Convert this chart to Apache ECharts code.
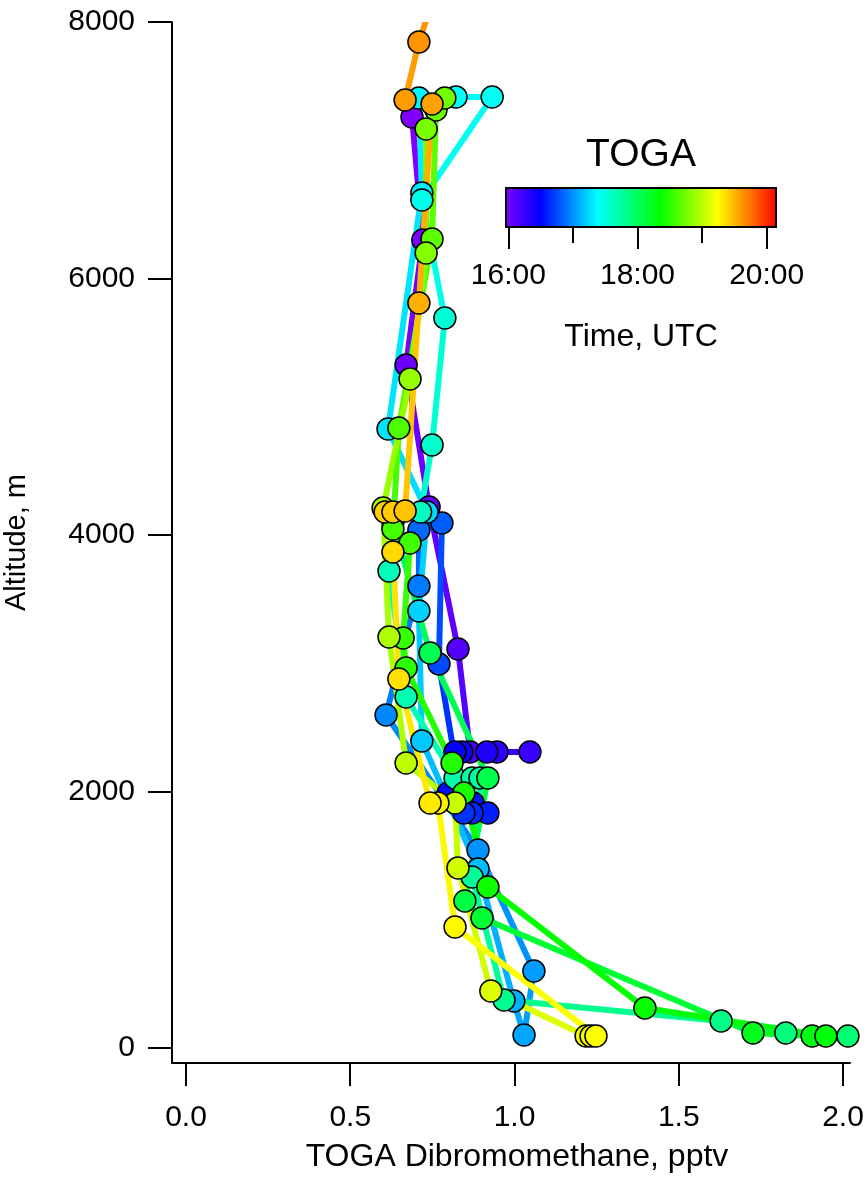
<!DOCTYPE html>
<html>
<head>
<meta charset="utf-8">
<script src="https://cdn.jsdelivr.net/npm/echarts@6/dist/echarts.min.js"></script>
<style>
  html, body { margin: 0; padding: 0; background: #ffffff; }
  #chart { width: 866px; height: 1182px; }
</style>
</head>
<body>
<div id="chart"></div>
<script>
// TOGA dibromomethane samples along the flight track (UTC sample time, pptv, metres).
// profileNo separates the two continuous stretches of the track.
const sampleTime = [
  "15:58","16:00","16:03","16:06","16:09","16:13","16:16","16:19","16:22","16:26",
  "16:29","16:33","16:35","16:37","16:39","16:41","16:46","16:50","16:52","16:56",
  "16:59","17:01","17:03","17:05","17:07","17:10","17:12","17:14","17:16","17:18",
  "17:20","17:22","17:24","17:26","17:28","17:33","17:35","17:37","17:39","17:41",
  "17:43","17:44","17:45","17:47","17:49","17:51","17:53","17:55",
  "18:00","18:02","18:04","18:06","18:09","18:15","18:17","18:19","18:22","18:24",
  "18:26","18:28","18:30","18:32","18:34","18:35","18:37","18:40","18:42","18:44",
  "18:46","18:48","18:52","18:55","18:57","19:00","19:02","19:04","19:07","19:11",
  "19:12","19:13","19:15","19:17","19:18","19:20","19:22","19:24","19:25","19:26",
  "19:31","19:34","19:35","19:37","19:39"
];
const profileNo = [
  1,1,1,1,1,1,1,1,1,1, 1,1,1,1,1,1,1,1,1,1, 1,1,1,1,1,1,1,1,1,1,
  1,1,1,1,1,1,1,1,1,1, 1,1,1,1,1,1,1,1,
  2,2,2,2,2,2,2,2,2,2, 2,2,2,2,2,2,2,2,2,2, 2,2,2,2,2,2,2,2,2,2,
  2,2,2,2,2,2,2,2,2,2, 2,2,2,2,2
];
const dibromomethane = [
  0.688,0.721,0.670,0.740,0.828,0.865,1.047,0.947,0.916,0.840,
  0.819,0.798,0.874,0.919,0.871,0.846,0.770,0.779,0.709,0.709,
  0.609,0.889,1.059,1.029,0.998,0.889,0.718,0.709,0.734,0.615,
  0.718,0.709,0.822,0.932,0.718,0.788,0.749,0.714,0.618,0.670,
  0.819,0.871,0.895,0.871,0.968,1.629,1.826,2.015,
  0.630,0.743,0.919,0.849,0.901,1.726,1.906,1.948,1.397,0.919,
  0.846,0.810,0.670,0.661,0.682,0.630,0.648,0.749,0.761,0.788,
  0.731,0.731,0.682,0.600,0.618,0.670,0.819,0.828,0.928,1.218,
  1.233,1.248,0.819,0.767,0.743,0.648,0.630,0.606,0.630,0.667,
  0.709,0.749,0.667,0.709,0.745
];
const altitude = [
  7259,6300,5326,4218,3111,2308,2308,2308,2308,2308,
  2308,1988,1910,1832,1832,1832,2994,4094,4039,3602,
  2596,1544,600,101,366,1396,2394,3407,4179,4827,
  6667,7407,7415,7415,6612,5692,4702,4179,3719,2737,
  2105,2105,2105,1333,374,211,117,94,
  4101,3080,2105,1146,1014,117,94,94,312,1255,
  1988,2222,2963,3197,3938,4047,4834,6308,7314,7407,
  7166,6199,5216,4210,3205,2222,1910,1404,444,94,
  94,94,943,1910,1910,2877,3867,4179,4179,4187,
  5809,7361,7392,7844,8120
];

// Axis tick values
const concTicks = [0, 0.5, 1.0, 1.5, 2.0];
const altTicks = [0, 2000, 4000, 6000, 8000];
const timeMajorTicks = [16, 18, 20];
const timeMinorTicks = [17, 19];

// Rainbow colour table over the time range (decimal hours UTC)
const timeRange = [15.964, 20.144];
const paletteHours = [15.964, 16.51, 17.39, 18.35, 19.23, 20.144];
const paletteColors = ['#8000ff', '#0000ff', '#00ffff', '#00ff00', '#ffff00', '#ff0000'];

const FONT = "'Liberation Sans', Arial, sans-serif";

function toHours(s) {
  const [h, m] = s.split(':').map(Number);
  return h + m / 60;
}
function hexToRgb(h) {
  return [parseInt(h.slice(1, 3), 16), parseInt(h.slice(3, 5), 16), parseInt(h.slice(5, 7), 16)];
}
const paletteRgb = paletteColors.map(hexToRgb);
function colorAt(t) {
  if (t <= paletteHours[0]) return paletteColors[0];
  for (let i = 1; i < paletteHours.length; i++) {
    if (t <= paletteHours[i]) {
      const f = (t - paletteHours[i - 1]) / (paletteHours[i] - paletteHours[i - 1]);
      const a = paletteRgb[i - 1], b = paletteRgb[i];
      const c = a.map((v, k) => Math.round(v + (b[k] - v) * f));
      return 'rgb(' + c.join(',') + ')';
    }
  }
  return paletteColors[paletteColors.length - 1];
}

const hours = sampleTime.map(toHours);
const points = dibromomethane.map((v, i) => [v, altitude[i], hours[i]]);
const segments = [];
for (let i = 0; i + 1 < points.length; i++) {
  if (profileNo[i] === profileNo[i + 1]) {
    segments.push([dibromomethane[i], altitude[i], dibromomethane[i + 1], altitude[i + 1], hours[i]]);
  }
}
const gradientStops = paletteHours.map((h, i) => ({
  offset: (h - timeRange[0]) / (timeRange[1] - timeRange[0]),
  color: paletteColors[i]
}));

const black = '#000000';
const tickLabel = { fontSize: 30, color: black, fontFamily: FONT };
const nameStyle = { fontSize: 32, color: black, fontFamily: FONT };
const gridBase = { containLabel: false, outerBoundsMode: 'none' };

const chart = echarts.init(document.getElementById('chart'), null, { renderer: 'canvas' });
chart.setOption({
  animation: false,
  backgroundColor: '#ffffff',
  textStyle: { fontFamily: FONT, color: black },
  grid: [
    Object.assign({ left: 172, top: 22, width: 678, height: 1041 }, gridBase),
    Object.assign({ left: 506, top: 188, width: 270, height: 39 }, gridBase),
    Object.assign({ left: 506, top: 188, width: 270, height: 39 }, gridBase)
  ],
  xAxis: [
    {
      gridIndex: 0, type: 'value', min: -0.0426, max: 2.0213,
      axisLine: { show: true, onZero: false, lineStyle: { color: black, width: 2 } },
      axisTick: { show: true, customValues: concTicks, length: 23, lineStyle: { color: black, width: 2 } },
      axisLabel: Object.assign({ customValues: concTicks, formatter: v => v.toFixed(1), margin: 40 }, tickLabel),
      splitLine: { show: false },
      name: 'TOGA Dibromomethane, pptv', nameLocation: 'middle', nameGap: 78,
      nameTextStyle: Object.assign({ padding: [0, 0, 0, 12] }, nameStyle)
    },
    {
      gridIndex: 1, type: 'value', min: timeRange[0], max: timeRange[1], position: 'bottom',
      axisLine: { show: false, onZero: false },
      axisTick: { show: true, customValues: timeMajorTicks, length: 22, lineStyle: { color: black, width: 2 } },
      axisLabel: Object.assign({ customValues: timeMajorTicks, formatter: h => h + ':00', margin: 34 }, tickLabel),
      splitLine: { show: false },
      name: 'Time, UTC', nameLocation: 'middle', nameGap: 94, nameTextStyle: nameStyle
    },
    {
      gridIndex: 1, type: 'value', min: timeRange[0], max: timeRange[1], position: 'top',
      axisLine: { show: false, onZero: false }, axisTick: { show: false }, axisLabel: { show: false },
      splitLine: { show: false },
      name: 'TOGA', nameLocation: 'middle', nameGap: 13,
      nameTextStyle: { fontSize: 39, color: black, fontFamily: FONT }
    },
    {
      gridIndex: 2, type: 'value', min: timeRange[0], max: timeRange[1], position: 'bottom',
      axisLine: { show: false, onZero: false },
      axisTick: { show: true, customValues: timeMinorTicks, length: 16, lineStyle: { color: black, width: 2 } },
      axisLabel: { show: false },
      splitLine: { show: false }
    }
  ],
  yAxis: [
    {
      gridIndex: 0, type: 'value', min: -117, max: 8000,
      axisLine: { show: true, onZero: false, lineStyle: { color: black, width: 2 } },
      axisTick: { show: true, customValues: altTicks, length: 24, lineStyle: { color: black, width: 2 } },
      axisLabel: Object.assign({ customValues: altTicks, formatter: v => String(v), margin: 37 }, tickLabel),
      splitLine: { show: false },
      name: 'Altitude, m', nameLocation: 'middle', nameGap: 141,
      nameTextStyle: { fontSize: 29, color: black, fontFamily: FONT }
    },
    { gridIndex: 1, type: 'value', min: 0, max: 1, show: false },
    { gridIndex: 2, type: 'value', min: 0, max: 1, show: false }
  ],
  series: [
    {
      name: 'track',
      type: 'custom',
      xAxisIndex: 0, yAxisIndex: 0,
      clip: true,
      z: 2,
      encode: { x: [0, 2], y: [1, 3] },
      data: segments,
      renderItem: function (params, api) {
        const a = api.coord([api.value(0), api.value(1)]);
        const b = api.coord([api.value(2), api.value(3)]);
        return {
          type: 'line',
          shape: { x1: a[0], y1: a[1], x2: b[0], y2: b[1] },
          style: { stroke: colorAt(api.value(4)), lineWidth: 6, lineCap: 'round' }
        };
      }
    },
    {
      name: 'samples',
      type: 'scatter',
      xAxisIndex: 0, yAxisIndex: 0,
      clip: true,
      z: 3,
      symbol: 'circle',
      symbolSize: 22,
      data: points,
      itemStyle: {
        color: p => colorAt(p.value[2]),
        borderColor: black,
        borderWidth: 1.5,
        opacity: 1
      },
      emphasis: { disabled: true }
    },
    {
      name: 'colour scale',
      type: 'custom',
      xAxisIndex: 1, yAxisIndex: 1,
      encode: { x: [0, 1] },
      data: [timeRange],
      renderItem: function (params, api) {
        const p0 = api.coord([api.value(0), 1]);
        const p1 = api.coord([api.value(1), 0]);
        return {
          type: 'rect',
          shape: { x: p0[0], y: p0[1], width: p1[0] - p0[0], height: p1[1] - p0[1] },
          style: {
            fill: new echarts.graphic.LinearGradient(0, 0, 1, 0, gradientStops),
            stroke: black, lineWidth: 2
          }
        };
      }
    }
  ]
});
</script>
</body>
</html>
